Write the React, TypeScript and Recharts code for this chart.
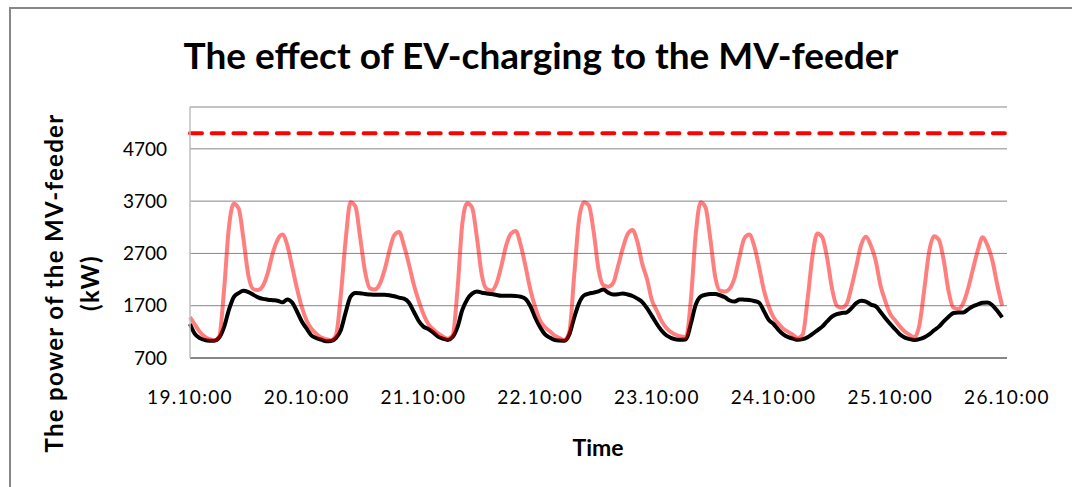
import { LineChart, Line, XAxis, YAxis, CartesianGrid, ReferenceLine } from "recharts";

// hourly feeder load, 19.10 00:00 -> 25.10 23:00 (kW)
const baseLoad = [
  1350, 1160, 1080, 1045, 1031, 1031, 1090, 1290, 1620, 1865, 1940, 1985, 1960, 1910, 1860, 1830, 1815, 1805, 1796, 1764, 1820, 1760, 1590, 1400,
  1260, 1127, 1080, 1050, 1020, 1025, 1080, 1230, 1570, 1870, 1945, 1940, 1923, 1915, 1910, 1910, 1910, 1900, 1880, 1855, 1835, 1760, 1590, 1413,
  1300, 1254, 1190, 1110, 1070, 1045, 1100, 1290, 1620, 1820, 1930, 1970, 1949, 1935, 1923, 1905, 1891, 1891, 1891, 1885, 1872, 1830, 1690, 1470,
  1286, 1150, 1090, 1044, 1035, 1031, 1150, 1470, 1750, 1895, 1930, 1950, 1975, 2012, 1950, 1915, 1920, 1935, 1915, 1885, 1835, 1770, 1650, 1500,
  1350, 1220, 1130, 1082, 1055, 1050, 1060, 1360, 1720, 1875, 1910, 1923, 1923, 1900, 1860, 1800, 1780, 1820, 1815, 1809, 1790, 1760, 1600, 1430,
  1350, 1240, 1150, 1100, 1070, 1048, 1060, 1095, 1160, 1230, 1300, 1400, 1490, 1540, 1560, 1570, 1650, 1750, 1796, 1780, 1720, 1690, 1580, 1460,
  1350, 1250, 1150, 1090, 1060, 1045, 1060, 1095, 1150, 1230, 1300, 1400, 1490, 1560, 1572, 1572, 1630, 1690, 1725, 1755, 1760, 1710, 1604, 1477,
];

const evLoad = [
  1480, 1340, 1200, 1110, 1060, 1035, 1110, 2000, 3200, 3650, 3560, 2970, 2280, 2020, 2000, 2080, 2330, 2700, 2960, 3060, 2860, 2450, 2030, 1670,
  1413, 1254, 1160, 1090, 1060, 1040, 1130, 1890, 2950, 3680, 3600, 3000, 2350, 2030, 2010, 2110, 2380, 2750, 3050, 3110, 2850, 2500, 2110, 1800,
  1540, 1350, 1250, 1170, 1110, 1070, 1130, 2000, 3270, 3660, 3580, 3000, 2290, 2020, 1990, 2120, 2450, 2850, 3080, 3130, 2860, 2450, 2000, 1670,
  1413, 1286, 1210, 1130, 1080, 1045, 1200, 2280, 3350, 3680, 3620, 3120, 2400, 2090, 2063, 2130, 2450, 2800, 3070, 3146, 2920, 2500, 2200, 1800,
  1604, 1400, 1270, 1190, 1140, 1110, 1100, 1820, 3070, 3680, 3580, 2970, 2250, 1985, 1974, 2030, 2240, 2640, 2990, 3060, 2850, 2450, 2000, 1690,
  1477, 1360, 1260, 1200, 1140, 1080, 1150, 1830, 2650, 3080, 3010, 2620, 2040, 1700, 1660, 1732, 2050, 2450, 2860, 3019, 2850, 2560, 2080, 1780,
  1540, 1420, 1300, 1200, 1140, 1100, 1340, 2020, 2740, 3030, 2960, 2560, 1970, 1660, 1636, 1750, 2030, 2400, 2760, 3010, 2850, 2560, 2100, 1700,
];

const dayLabels = ["19.10:00", "20.10:00", "21.10:00", "22.10:00", "23.10:00", "24.10:00", "25.10:00", "26.10:00"];
const yTicks = [700, 1700, 2700, 3700, 4700];
const feederLimit = 5000;

const data = baseLoad.map((v, i) => ({ hour: i, base: v, ev: evLoad[i] }));
const xTicks = dayLabels.map((_, i) => i * 24);

const font = "Lato, 'Open Sans', sans-serif";

export default function App() {
  return (
    <div
      style={{
        position: "absolute",
        top: 0,
        left: 0,
        width: 1072,
        height: 487,
        background: "#fff",
        fontFamily: font,
        overflow: "hidden",
      }}
    >
      {/* frame */}
      <div style={{ position: "absolute", left: 9, top: 7, width: 1063, height: 480, borderTop: "2px solid #878787", borderLeft: "2px solid #878787" }} />

      <div
        style={{
          position: "absolute",
          left: 0,
          width: 1082,
          top: 33,
          textAlign: "center",
          fontWeight: 700,
          fontSize: 37,
          lineHeight: "44px",
          color: "#000",
        }}
      >
        The effect of EV-charging to the MV-feeder
      </div>

      <LineChart
        width={1072}
        height={487}
        data={data}
        margin={{ top: 107, right: 65, left: 130, bottom: 99 }}
        style={{ position: "absolute", left: 0, top: 0 }}
      >
        <CartesianGrid horizontal vertical={false} stroke="#878787" strokeWidth={1} />
        <XAxis
          dataKey="hour"
          type="number"
          domain={[0, 168]}
          ticks={xTicks}
          tickFormatter={(v) => dayLabels[v / 24]}
          height={30}
          tickLine={false}
          tickSize={6}
          tickMargin={27}
          axisLine={{ stroke: "#878787", strokeWidth: 2 }}
          tick={{ fontSize: 19, fill: "#000", fontFamily: font, letterSpacing: 1.3 }}
          interval={0}
        />
        <YAxis
          type="number"
          domain={[700, 5500]}
          ticks={yTicks}
          width={60}
          tickLine={false}
          tickSize={6}
          tickMargin={17}
          axisLine={{ stroke: "#BFBFBF", strokeWidth: 1.5 }}
          tick={{ fontSize: 19, fill: "#000", fontFamily: font }}
          interval={0}
        />
        <ReferenceLine
          y={feederLimit}
          stroke="#FF0000"
          strokeWidth={4}
          strokeDasharray="12 9.7"
          strokeLinecap="round"
        />
        <Line
          type="monotone"
          dataKey="base"
          stroke="#000"
          strokeWidth={4}
          dot={false}
          isAnimationActive={false}
        />
        <Line
          type="monotone"
          dataKey="ev"
          stroke="#FF0000"
          strokeOpacity={0.5}
          strokeWidth={4}
          dot={false}
          isAnimationActive={false}
        />
      </LineChart>

      {/* y axis title */}
      <div
        style={{
          position: "absolute",
          left: 54,
          top: 283,
          transform: "translate(-50%, -50%) rotate(-90deg)",
          whiteSpace: "nowrap",
          fontWeight: 700,
          fontSize: 24,
          letterSpacing: 1.3,
          color: "#000",
          lineHeight: "28px",
        }}
      >
        The power of the MV-feeder
      </div>
      <div
        style={{
          position: "absolute",
          left: 90,
          top: 283,
          transform: "translate(-50%, -50%) rotate(-90deg)",
          whiteSpace: "nowrap",
          fontWeight: 700,
          fontSize: 24,
          letterSpacing: 1.3,
          color: "#000",
          lineHeight: "28px",
        }}
      >
        (kW)
      </div>

      {/* x axis title */}
      <div
        style={{
          position: "absolute",
          left: 598,
          top: 447,
          transform: "translate(-50%, -50%)",
          fontWeight: 700,
          fontSize: 23,
          color: "#000",
          lineHeight: "28px",
        }}
      >
        Time
      </div>
    </div>
  );
}
